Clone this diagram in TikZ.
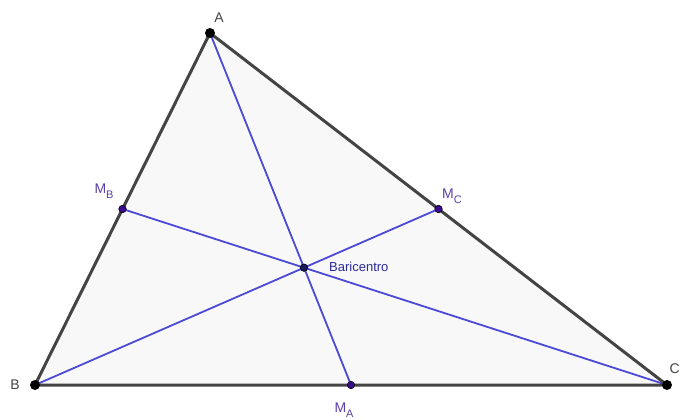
\documentclass[tikz,border=0pt]{standalone}
\usepackage{fontspec}
\setmainfont{Liberation Sans}
\usetikzlibrary{calc}
\definecolor{edgegray}{HTML}{444444}
\definecolor{medblue}{HTML}{4A4AD6}
\definecolor{midpurple}{HTML}{3C0A8C}
\definecolor{lblpurple}{HTML}{5B3FA6}
\definecolor{barblue}{HTML}{2A2A9A}
\definecolor{fillgray}{HTML}{F8F8F8}
\newcommand{\msub}[1]{M\raisebox{-4.5pt}{\fontsize{11}{11}\selectfont #1}}
\begin{document}
\begin{tikzpicture}[x=1pt,y=-1pt,
  vert/.style={circle,fill=black,inner sep=0pt,minimum size=10pt},
  midpt/.style={circle,fill=midpurple,draw=black,line width=0.6pt,inner sep=0pt,minimum size=7.5pt},
  cent/.style={circle,fill=barblue!60!black,draw=black,line width=0.6pt,inner sep=0pt,minimum size=7.5pt},
  side/.style={draw=edgegray,line width=3pt},
  median/.style={draw=medblue,line width=1.8pt},
  vlab/.style={text=edgegray,font=\fontsize{14}{16}\selectfont,inner sep=0pt},
  mlab/.style={text=lblpurple,font=\fontsize{14}{16}\selectfont,inner sep=0pt},
  blab/.style={text=barblue,font=\fontsize{13}{15}\selectfont,inner sep=0pt,anchor=west}]
\useasboundingbox (0,0) rectangle (680,420);
\coordinate (A) at (210,33);
\coordinate (B) at (35,385);
\coordinate (C) at (667,385);
\coordinate (MA) at ($(B)!0.5!(C)$);
\coordinate (MB) at ($(A)!0.5!(B)$);
\coordinate (MC) at ($(A)!0.5!(C)$);
\coordinate (G) at ($1/3*(A)+1/3*(B)+1/3*(C)$);
\fill[fillgray] (A) -- (B) -- (C) -- cycle;
\draw[median] (A) -- (MA);
\draw[median] (C) -- (MB);
\draw[median] (B) -- (MC);
\draw[side,line join=round] (A) -- (B) -- (C) -- cycle;
\node[vert] (nA) at (A) {};
\node[vert] (nB) at (B) {};
\node[vert] (nC) at (C) {};
\node[midpt] (nMA) at (MA) {};
\node[midpt] (nMB) at (MB) {};
\node[midpt] (nMC) at (MC) {};
\node[cent] (nG) at (G) {};
\node[vlab] (lA) at (219,18) {A};
\node[vlab] (lB) at (15,385) {B};
\node[vlab,anchor=east] (lC) at (680,369) {C};
\node[mlab] (lMB) at (104,191) {\msub{B}};
\node[mlab] (lMC) at (452,196) {\msub{C}};
\node[mlab] (lMA) at (344,410) {\msub{A}};
\node[blab] (lG) at (329,267) {Baricentro};
\end{tikzpicture}
\end{document}
